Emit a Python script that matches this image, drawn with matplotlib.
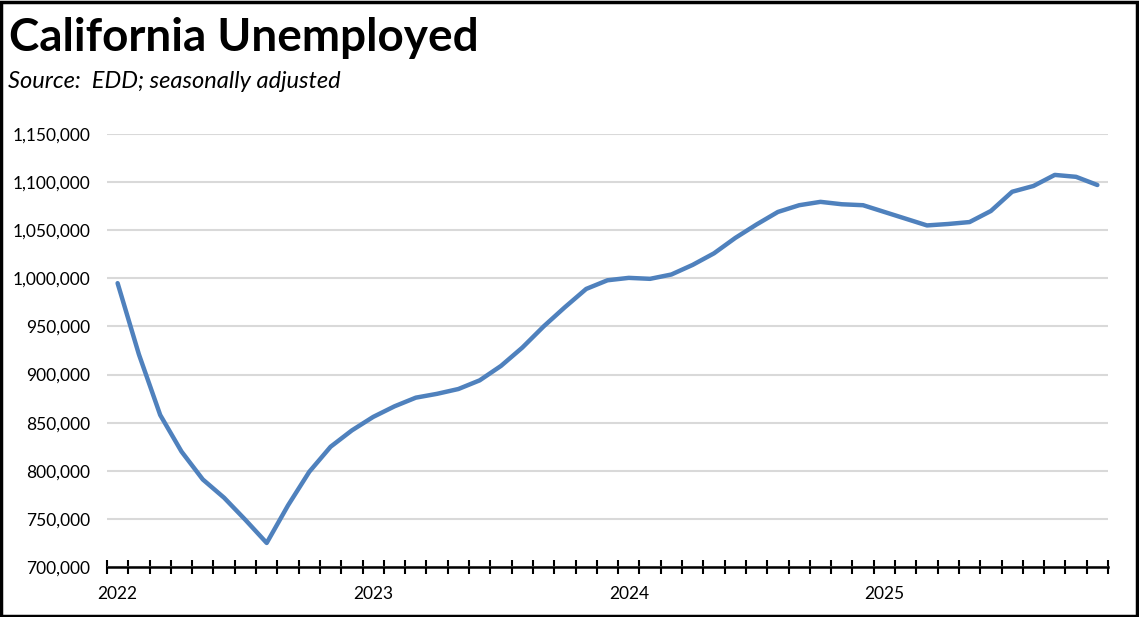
import numpy as np
import matplotlib.pyplot as plt
from matplotlib.patches import Rectangle
from matplotlib.ticker import FuncFormatter

# monthly unemployed, Jan 2022 - Nov 2025
unemployed = [995000, 921000, 858000, 820000, 791000, 772000, 749000, 725000,
              764000, 799000, 825000, 842000,
              856000, 867000, 876000, 880000, 885000, 894000, 909000, 928000,
              950000, 970000, 989000, 998000,
              1000500, 999500, 1004000, 1014000, 1026000, 1042000, 1056000, 1069000,
              1076000, 1079500, 1077000, 1076000,
              1069000, 1062000, 1055000, 1056500, 1058500, 1070000, 1090000, 1096000,
              1107500, 1105500, 1097000]
year_labels = ['2022', '2023', '2024', '2025']

plt.rcParams['font.family'] = ['Lato', 'DejaVu Sans']

fig = plt.figure(figsize=(11.39, 6.17), dpi=100)
ax = fig.add_axes([0.0939, 0.0810, 0.8789, 0.7018])

x = np.arange(len(unemployed))
ax.plot(x, unemployed, color='#4F81BD', lw=3.2, solid_joinstyle='round', solid_capstyle='round', zorder=3)

ax.set_xlim(-0.5, len(unemployed) - 0.5)
ax.set_ylim(700000, 1150000)
ax.set_yticks(np.arange(700000, 1150001, 50000))
ax.yaxis.set_major_formatter(FuncFormatter(lambda v, p: f'{int(v):,}'))
ax.grid(axis='y', color='#D9D9D9', lw=1.5)
ax.set_axisbelow(True)

# month boundary ticks, year labels at January
ax.set_xticks(np.arange(-0.5, len(unemployed)))
ax.set_xticklabels([])
ax.set_xticks(np.arange(0, len(unemployed), 12), year_labels, minor=True)
ax.tick_params(axis='x', which='major', direction='inout', length=10, width=1.5, color='black')
ax.tick_params(axis='x', which='minor', length=0, pad=14, labelsize=12.5)
ax.tick_params(axis='y', length=0, pad=12, labelsize=12.5)

for s in ['top', 'right', 'left']:
    ax.spines[s].set_visible(False)
ax.spines['bottom'].set_linewidth(1.8)

fig.text(0.008, 0.938, 'California Unemployed', fontsize=33, fontweight='bold', va='center')
fig.text(0.007, 0.868, 'Source:  EDD; seasonally adjusted', fontsize=17, style='italic', va='center')

fig.patches.append(Rectangle((0.001, 0.002), 0.997, 0.995, transform=fig.transFigure,
                             fill=False, edgecolor='black', lw=2.5))

plt.savefig('out.png', dpi=100)
